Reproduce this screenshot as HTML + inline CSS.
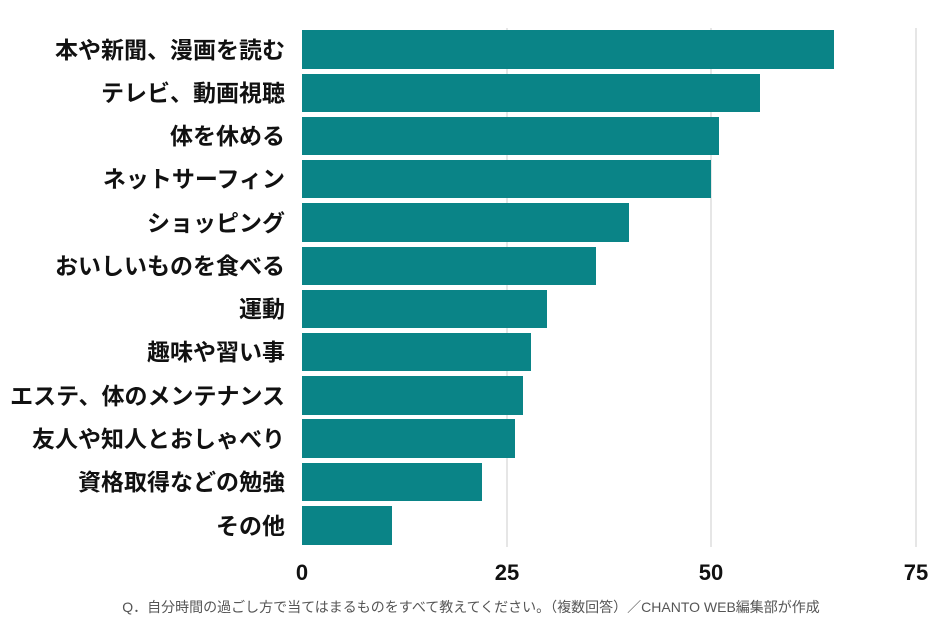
<!DOCTYPE html>
<html><head><meta charset="utf-8"><style>
body{margin:0;background:#fff;width:941px;height:627px;overflow:hidden;font-family:"Liberation Sans","Noto Sans CJK JP",sans-serif}
</style></head><body>
<svg width="941" height="627" xmlns="http://www.w3.org/2000/svg" font-family="Liberation Sans, Noto Sans CJK JP, sans-serif">
<g stroke="#dddddd" stroke-width="1.5">
<line x1="507" y1="28" x2="507" y2="547"/>
<line x1="711" y1="28" x2="711" y2="547"/>
<line x1="916" y1="28" x2="916" y2="547"/>
</g>
<g fill="#0a8487">
<rect x="302" y="30" width="532" height="39"/>
<rect x="302" y="74" width="458" height="38"/>
<rect x="302" y="117" width="417" height="38"/>
<rect x="302" y="160" width="409" height="38"/>
<rect x="302" y="203" width="327" height="39"/>
<rect x="302" y="247" width="294" height="38"/>
<rect x="302" y="290" width="245" height="38"/>
<rect x="302" y="333" width="229" height="38"/>
<rect x="302" y="376" width="221" height="39"/>
<rect x="302" y="419" width="213" height="39"/>
<rect x="302" y="463" width="180" height="38"/>
<rect x="302" y="506" width="90" height="39"/>
</g>
<g font-size="23" font-weight="bold" fill="#111" text-anchor="end">
<text x="285" y="58">本や新聞、漫画を読む</text>
<text x="285" y="101">テレビ、動画視聴</text>
<text x="285" y="144">体を休める</text>
<text x="285" y="187">ネットサーフィン</text>
<text x="285" y="231">ショッピング</text>
<text x="285" y="274">おいしいものを食べる</text>
<text x="285" y="317">運動</text>
<text x="285" y="360">趣味や習い事</text>
<text x="285" y="404">エステ、体のメンテナンス</text>
<text x="285" y="447">友人や知人とおしゃべり</text>
<text x="285" y="490">資格取得などの勉強</text>
<text x="285" y="534">その他</text>
</g>
<g font-size="22" font-weight="bold" fill="#111" text-anchor="middle">
<text x="302" y="580">0</text>
<text x="507" y="580">25</text>
<text x="711" y="580">50</text>
<text x="916" y="580">75</text>
</g>
<text x="471" y="612" font-size="14" fill="#555" text-anchor="middle">Q．自分時間の過ごし方で当てはまるものをすべて教えてください。（複数回答）／CHANTO WEB編集部が作成</text>
</svg>
</body></html>
